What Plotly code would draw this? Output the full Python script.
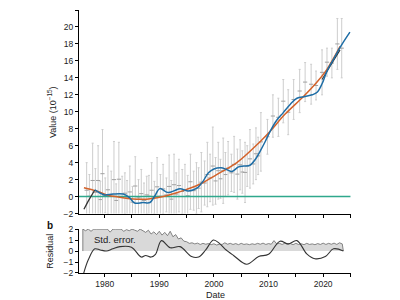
import plotly.graph_objects as go

# ---------------- data ----------------
bar_x = [1976.7, 1977.8, 1978.8, 1979.6, 1980.6, 1981.7, 1982.6, 1983.7, 1984.6, 1985.6,
         1986.7, 1987.7, 1988.6, 1989.6, 1990.7, 1991.8, 1992.7, 1993.6, 1994.7, 1995.7,
         1996.8, 1997.7, 1998.8, 1999.8, 2000.8, 2001.7, 2002.6, 2003.7, 2004.8, 2005.7,
         2006.6, 2007.7, 2008.6, 2009.8, 2010.8, 2011.8, 2012.7, 2013.6, 2014.6, 2015.7,
         2016.7, 2017.8, 2018.7, 2019.8, 2020.7, 2021.6, 2022.6, 2023.4]
bar_high = [4.0, 6.3, 6.0, 7.9, 3.6, 6.5, 6.4, 2.8, 3.6, 4.7,
            3.2, 2.4, 4.0, 4.6, 3.8, 4.9, 5.0, 4.4, 3.8, 5.0,
            4.0, 5.2, 6.4, 8.2, 6.4, 6.9, 6.5, 7.1, 6.7, 6.4,
            7.9, 8.1, 9.9, 9.1, 12.0, 11.6, 13.8, 12.6, 13.8, 15.0,
            15.8, 15.6, 14.8, 17.3, 17.5, 17.5, 21.0, 21.0]
bar_low = [-2.5, -2.5, -2.2, -2.5, -2.0, -2.5, -2.3, -2.0, -2.5, -2.2,
           -2.5, -2.0, -2.5, -2.3, -2.0, -2.5, -2.2, -1.8, -2.2, -1.5,
           -2.0, -1.8, -1.2, -1.0, -0.3, -0.8, 0.2, 0.5, 0.8, -0.7,
           1.0, 2.0, 3.0, 5.0, 7.0, 7.1, 8.7, 7.3, 9.1, 9.9,
           11.2, 10.9, 11.4, 12.0, 14.2, 14.0, 15.0, 14.0]

# shorter in-between bars (mostly in the early, noisier years)
bar2_x = [1977.2, 1978.3, 1979.2, 1980.1, 1981.2, 1982.1, 1983.2, 1984.1, 1985.1, 1986.2,
          1987.2, 1988.1, 1989.1, 1990.2, 1991.3, 1992.2, 1993.1, 1994.2, 1995.2, 1996.3,
          1997.2, 1998.3, 1999.3, 2000.3, 2001.2, 2002.1, 2003.2, 2004.3, 2005.2, 2006.1,
          2007.2, 2008.1]
bar2_high = [2.6, 3.3, 1.8, 2.2, 3.0, 1.5, 2.4, 1.9, 1.2, 2.0,
             1.6, 2.5, 1.8, 2.6, 2.2, 1.9, 2.8, 3.2, 2.5, 3.0,
             3.4, 4.2, 5.0, 4.6, 4.4, 5.2, 5.0, 5.6, 5.4, 6.0,
             6.2, 7.0]
bar2_low = [-2.5, -2.3, -2.5, -1.9, -2.5, -2.4, -2.5, -2.2, -2.5, -2.3,
            -2.5, -2.4, -2.0, -2.5, -1.8, -2.5, -2.2, -2.0, -2.3, -1.6,
            -1.4, -1.0, -0.6, -0.9, -0.2, 0.0, 0.6, -0.3, 0.4, 1.2,
            1.5, 2.6]

trend_x = [1976.2, 1978.5, 1980.6, 1982.5, 1984.6, 1987.7, 1990.7, 1992.9, 1995.0, 1997.4,
           2000.5, 2004.2, 2008.5, 2010.3, 2013.0, 2016.4, 2019.0, 2020.7, 2023.1]
trend_y = [1.05, 0.66, 0.15, -0.05, -0.24, -0.3, 0.0, 0.4, 0.85, 1.45,
           2.6, 4.0, 6.5, 7.7, 9.7, 11.8, 13.6, 15.0, 17.7]

start_x = [1976.2, 1977.2, 1978.2]
start_y = [-1.5, -0.3, 0.78]

smooth_x = [1978.2, 1979.2, 1980.0, 1981.5, 1983.4, 1984.5, 1985.5, 1987.0, 1988.3, 1989.2,
            1990.1, 1991.6, 1992.8, 1993.8, 1995.3, 1996.3, 1997.1, 1998.0, 1999.0, 2000.0,
            2001.3, 2002.3, 2003.3, 2004.5, 2005.5, 2006.6, 2007.6, 2008.5, 2009.4, 2010.3,
            2011.5, 2012.7, 2014.0, 2015.2, 2016.7, 2018.0, 2018.9, 2019.8, 2020.7, 2022.0,
            2023.1, 2024.9]
smooth_y = [0.78, 0.4, 0.2, 0.3, 0.3, -0.1, -0.75, -0.7, -0.7, 0.1,
            0.94, 0.47, 0.7, 0.94, 0.66, 0.8, 1.1, 1.8, 2.8, 3.25,
            3.4, 3.2, 2.95, 3.5, 3.6, 3.7, 4.4, 5.4, 6.5, 7.7,
            9.0, 9.9, 10.9, 11.6, 11.8, 12.0, 12.3, 13.3, 14.8, 16.3,
            17.6, 19.4]

end_x = [2019.8, 2021.5, 2023.1]
end_y = [13.8, 15.6, 17.3]

zero_x = [1975.3, 2025.0]
zero_y = [0, 0]

resid_x = [1976.0, 1977.0, 1978.2, 1979.2, 1980.3, 1981.5, 1982.8, 1984.9, 1986.7, 1987.5,
           1988.5, 1989.3, 1990.4, 1992.0, 1993.8, 1995.9, 1997.2, 1998.5, 1999.9, 2001.0,
           2002.0, 2003.6, 2006.0, 2008.2, 2010.0, 2012.1, 2013.6, 2015.2, 2017.0, 2018.5,
           2020.4, 2021.9, 2023.7]
resid_y = [-2.3, -0.8, 0.2, 0.1, 0.0, 0.2, 0.4, 0.35, -0.55, -0.4,
           -0.55, -0.3, 0.95, 0.3, 0.4, -0.5, -0.55, 0.1, 1.0, 0.7,
           0.2, -0.4, -1.2, -0.5, -0.3, 0.9, 0.65, 0.95, -0.25, -0.7,
           -0.5, 0.2, 0.0]

se_x = [1976.0 + 0.5 * i for i in range(96)]
se_y = [2.0, 1.85, 2.0, 1.8, 2.0, 2.0, 2.0, 2.0, 2.0, 2.0,
        1.72, 2.0, 2.0, 2.0, 2.0, 1.8, 1.95, 1.85, 2.0, 1.9,
        1.8, 2.0, 1.85, 1.7, 1.9, 1.55, 1.75, 1.5, 1.8, 1.45,
        1.7, 1.4, 1.8, 1.3, 1.5, 1.1, 1.2, 0.9, 0.85, 0.7,
        0.75, 0.65, 0.72, 0.6, 0.7, 0.62, 0.68, 0.58, 0.66, 0.55,
        0.62, 0.6, 0.75, 0.62, 0.7, 0.6, 0.68, 0.58, 0.7, 0.6,
        0.65, 0.58, 0.66, 0.6, 0.7, 0.62, 0.72, 0.6, 0.68, 0.62,
        0.95, 0.65, 0.7, 0.6, 0.72, 0.62, 0.68, 0.58, 0.7, 0.6,
        0.66, 0.58, 0.7, 0.6, 0.65, 0.58, 0.68, 0.6, 0.72, 0.6,
        0.7, 0.62, 0.72, 0.6, 0.75, 0.65]

x_label_ticks = [1980, 1990, 2000, 2010, 2020]
x_minor_ticks = [1975, 1985, 1995, 2005, 2015, 2025]
y_top_ticks = [-2, 0, 2, 4, 6, 8, 10, 12, 14, 16, 18, 20, 22]
y_bot_ticks = [-2, -1, 0, 1, 2]

# ---------------- figure ----------------
FONT = "Liberation Sans, Arial, sans-serif"
GRAYBAR = "#cdcdcd"
GRAYMARK = "#a0a0a0"


def bar_trace(xs, hi, lo):
    mid = [(h + l) / 2 for h, l in zip(hi, lo)]
    return go.Scatter(
        x=xs, y=mid, mode="markers", xaxis="x", yaxis="y",
        marker=dict(size=3, color=GRAYMARK, symbol="line-ew-open",
                    line=dict(width=1, color=GRAYMARK)),
        error_y=dict(type="data", array=[h - m for h, m in zip(hi, mid)],
                     arrayminus=[m - l for l, m in zip(lo, mid)],
                     color=GRAYBAR, thickness=1, width=1),
        hoverinfo="skip")


fig = go.Figure()
fig.add_trace(bar_trace(bar2_x, bar2_high, bar2_low))
fig.add_trace(bar_trace(bar_x, bar_high, bar_low))
fig.add_trace(go.Scatter(x=zero_x, y=zero_y, mode="lines", xaxis="x", yaxis="y",
                         line=dict(color="#2fa88c", width=1.5)))
fig.add_trace(go.Scatter(x=trend_x, y=trend_y, mode="lines", xaxis="x", yaxis="y",
                         line=dict(color="#d4622a", width=1.5, shape="spline")))
fig.add_trace(go.Scatter(x=start_x, y=start_y, mode="lines", xaxis="x", yaxis="y",
                         line=dict(color="#333333", width=1.3, shape="spline")))
fig.add_trace(go.Scatter(x=end_x, y=end_y, mode="lines", xaxis="x", yaxis="y",
                         line=dict(color="#333333", width=1.1, shape="spline")))
fig.add_trace(go.Scatter(x=smooth_x, y=smooth_y, mode="lines", xaxis="x", yaxis="y",
                         line=dict(color="#1f6ea6", width=1.5, shape="spline")))

# bottom panel
fig.add_trace(go.Scatter(
    x=[se_x[0]] + se_x + [se_x[-1] + 0.2], y=[0] + se_y + [0],
    mode="lines", xaxis="x2", yaxis="y2", fill="tozeroy", fillcolor="#d9d9d9",
    line=dict(color="#6a6a6a", width=0.8)))
fig.add_trace(go.Scatter(x=resid_x, y=resid_y, mode="lines", xaxis="x2", yaxis="y2",
                         line=dict(color="#333333", width=1.1, shape="spline")))

axis_common = dict(showline=True, linecolor="black", linewidth=1, ticks="outside",
                   ticklen=3, tickwidth=1, tickcolor="black", showgrid=False, zeroline=False,
                   automargin=False,
                   tickfont=dict(family=FONT, size=8.5, color="#222"))
minor_x = dict(tickvals=x_minor_ticks, ticks="outside", ticklen=3, tickwidth=1,
               tickcolor="black", showgrid=False)

# the page body adds an 8 px offset; margins are chosen to compensate
fig.update_layout(
    width=400, height=300, showlegend=False,
    paper_bgcolor="white", plot_bgcolor="white",
    margin=dict(l=71, r=57, t=2, b=35),
    xaxis=dict(domain=[0, 1], anchor="y", range=[1975.3, 2025.1], tickvals=x_label_ticks,
               showticklabels=False, minor=minor_x, **axis_common),
    yaxis=dict(domain=[0.226, 1.0], anchor="x", range=[-2, 22], tickvals=y_top_ticks,
               **axis_common),
    xaxis2=dict(domain=[0, 1], anchor="y2", range=[1975.3, 2025.1], tickvals=x_label_ticks,
                minor=minor_x, **axis_common),
    yaxis2=dict(domain=[0, 0.167], anchor="x2", range=[-2, 2], tickvals=y_bot_ticks,
                **axis_common),
    annotations=[
        dict(text="Value (10<sup>\u221215</sup>)", xref="paper", yref="paper", x=-0.099, y=0.612,
             textangle=-90, showarrow=False, xanchor="center", yanchor="middle",
             font=dict(family=FONT, size=9, color="#222")),
        dict(text="Residual", xref="paper", yref="paper", x=-0.107, y=0.084,
             textangle=-90, showarrow=False, xanchor="center", yanchor="middle",
             font=dict(family=FONT, size=9, color="#222")),
        dict(text="<b>b</b>", xref="paper", yref="paper", x=-0.107, y=0.179,
             showarrow=False, xanchor="center", yanchor="middle",
             font=dict(family=FONT, size=10, color="#111")),
        dict(text="Date", xref="paper", yref="paper", x=0.5, y=-0.082,
             showarrow=False, xanchor="center", yanchor="middle",
             font=dict(family=FONT, size=9, color="#222")),
        dict(text="Std. error.", xref="x2", yref="y2", x=1981.9, y=1.05,
             showarrow=False, xanchor="center", yanchor="middle",
             font=dict(family=FONT, size=9.5, color="#222")),
    ],
)

fig.write_html("out.html")
